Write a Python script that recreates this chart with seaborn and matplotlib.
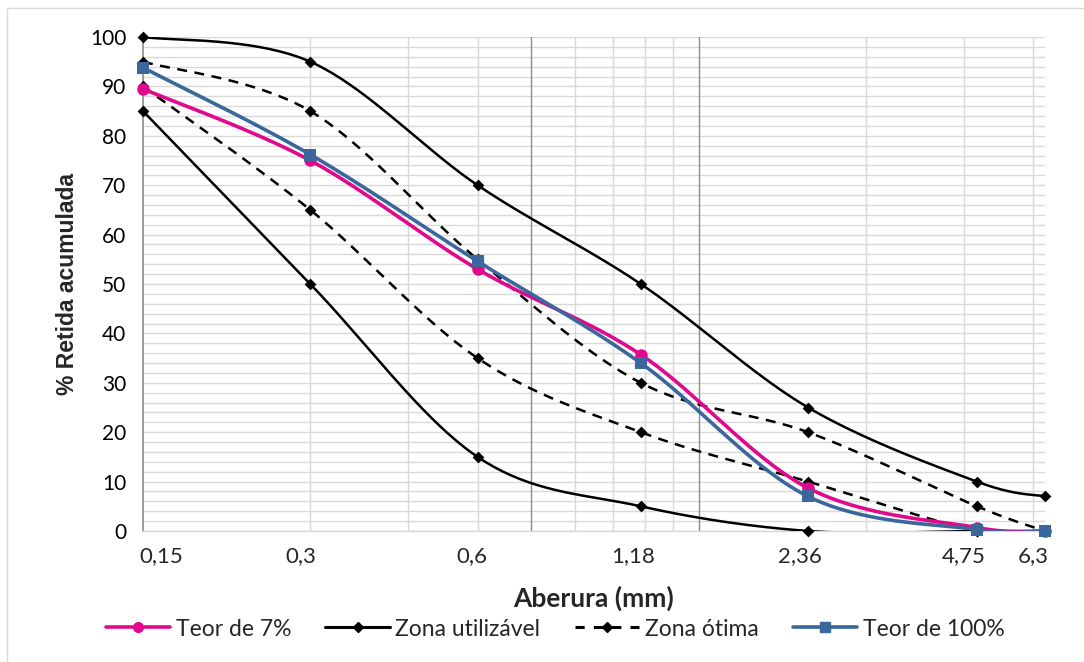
import numpy as np
import matplotlib
matplotlib.use("Agg")
import matplotlib.pyplot as plt
from matplotlib.lines import Line2D
from matplotlib.ticker import NullFormatter
from matplotlib.transforms import ScaledTranslation
import seaborn as sns

# Sieve openings (mm) and their printed labels
aberturas = [0.15, 0.3, 0.6, 1.18, 2.36, 4.75, 6.3]
rotulos = ["0,15", "0,3", "0,6", "1,18", "2,36", "4,75", "6,3"]

# Cumulative retained percentage for each curve
teor_7 = [89.5, 75.0, 53.0, 35.7, 8.7, 0.7, 0.0]
teor_100 = [93.8, 76.2, 54.6, 34.0, 7.0, 0.3, 0.0]
util_sup = [100, 95, 70, 50, 25, 10, 7]
util_inf = [85, 50, 15, 5, 0, 0, 0]
otima_sup = [95, 85, 55, 30, 20, 5, 0]
otima_inf = [90, 65, 35, 20, 10, 0, 0]

sns.set_theme(style="white")
plt.rcParams["font.family"] = ["Lato", "DejaVu Sans"]

W, H = 1084, 662
fig = plt.figure(figsize=(W / 100, H / 100), dpi=100)
ax = fig.add_axes([143 / W, 1 - 531 / H, (1045 - 143) / W, (531 - 37) / H])

ax.set_xscale("log")
ax.set_xlim(0.15, 6.3)
ax.set_ylim(0, 100)

# Gridlines in the style of a log axis with base 10 starting at 0.15
minor_x = [0.3, 0.45, 0.6, 0.9, 1.05, 1.2, 1.35, 3.0, 4.5, 6.0]
ax.xaxis.remove_overlapping_locs = False
ax.set_xticks(minor_x, minor=True)
ax.xaxis.set_minor_formatter(NullFormatter())
ax.set_xticks(aberturas)
ax.set_xticklabels(rotulos)
ax.set_yticks(np.arange(0, 101, 10))
ax.set_yticks(np.arange(0, 101, 2), minor=True)
ax.yaxis.set_minor_formatter(NullFormatter())
ax.grid(which="minor", axis="both", color="#D9D9D9", linewidth=1.0)
ax.grid(which="major", axis="y", color="#D9D9D9", linewidth=1.0)
for xv in (0.75, 1.5):
    ax.axvline(xv, color="#8C8C8C", linewidth=1.0, zorder=1)
ax.tick_params(axis="both", which="both", length=0)
ax.tick_params(axis="x", pad=11, labelsize=16, colors="#262626")
ax.tick_params(axis="y", pad=12, labelsize=15, colors="#000000")

# Nudge the opening labels sideways, as in the printed chart
desloc_px = [18, -9, -6, -8, -8, -13, -12]
for lab, dx in zip(ax.get_xticklabels(), desloc_px):
    lab.set_transform(lab.get_transform() + ScaledTranslation(dx / 100, 0, fig.dpi_scale_trans))

for s in ("top", "right"):
    ax.spines[s].set_visible(False)
ax.spines["left"].set_color("#8C8C8C")
ax.spines["left"].set_linewidth(1.2)
ax.spines["bottom"].set_color("#D9D9D9")
ax.spines["bottom"].set_linewidth(1.0)


def suavizar(xs, ys, n=40):
    """Bezier smoothing (Catmull-Rom style) done in display-like units."""
    u = np.log10(np.asarray(xs, float)) * 560.0
    v = np.asarray(ys, float) * 4.94
    pu = np.concatenate([[u[0]], u, [u[-1]]])
    pv = np.concatenate([[v[0]], v, [v[-1]]])
    cu, cv = [], []
    t = np.linspace(0, 1, n)
    for i in range(1, len(pu) - 2):
        p0 = np.array([pu[i], pv[i]])
        p3 = np.array([pu[i + 1], pv[i + 1]])
        p1 = p0 + (np.array([pu[i + 1], pv[i + 1]]) - np.array([pu[i - 1], pv[i - 1]])) / 6
        p2 = p3 - (np.array([pu[i + 2], pv[i + 2]]) - np.array([pu[i], pv[i]])) / 6
        b = ((1 - t) ** 3)[:, None] * p0 + (3 * (1 - t) ** 2 * t)[:, None] * p1 \
            + (3 * (1 - t) * t ** 2)[:, None] * p2 + (t ** 3)[:, None] * p3
        cu.extend(b[:, 0])
        cv.extend(b[:, 1])
    return 10 ** (np.array(cu) / 560.0), np.array(cv) / 4.94


magenta = "#E0088C"
azul = "#3C679C"

series = [
    (util_sup, "black", "-", 1.8, "D", 6, 3),
    (util_inf, "black", "-", 1.8, "D", 6, 3),
    (otima_sup, "black", (0, (4, 3)), 1.8, "D", 6, 3),
    (otima_inf, "black", (0, (4, 3)), 1.8, "D", 6, 3),
    (teor_7, magenta, "-", 2.6, "o", 9, 4),
    (teor_100, azul, "-", 2.6, "s", 8.5, 5),
]
for ys, cor, ls, lw, mk, ms, z in series:
    sx, sy = suavizar(aberturas, ys)
    sns.lineplot(x=sx, y=sy, ax=ax, color=cor, linestyle=ls, linewidth=lw,
                 sort=False, estimator=None, zorder=z)
    sns.scatterplot(x=aberturas, y=ys, ax=ax, color=cor, marker=mk, s=ms ** 2,
                    edgecolor=cor, linewidth=0, zorder=z + 0.5, clip_on=False)

ax.set_xlabel("Aberura (mm)", fontsize=19, fontweight="bold", labelpad=14,
              family=["Lato", "DejaVu Sans"])
ax.set_ylabel("% Retida acumulada", fontsize=16.5, fontweight="bold", labelpad=8,
              family=["Liberation Sans", "DejaVu Sans"])

handles = [
    Line2D([], [], color=magenta, lw=2.6, marker="o", ms=7),
    Line2D([], [], color="black", lw=2.2, marker="D", ms=5),
    Line2D([], [], color="black", lw=2.2, ls=(0, (3, 3)), marker="D", ms=5),
    Line2D([], [], color=azul, lw=2.6, marker="s", ms=7),
]
labels = ["Teor de 7%", "Zona utilizável", "Zona ótima", "Teor de 100%"]
fig.legend(handles, labels, loc="center", bbox_to_anchor=(555 / W, 1 - 629 / H),
           ncol=4, frameon=False, fontsize=16.5, handlelength=2.8,
           columnspacing=1.5, handletextpad=0.25)

fig.patches.append(plt.Rectangle((7 / W, -0.01), 1.02, 1 - 8 / H + 0.01,
                                 transform=fig.transFigure, fill=False,
                                 edgecolor="#D9D9D9", linewidth=1.0))

fig.savefig("out.png", dpi=100, facecolor="white")
